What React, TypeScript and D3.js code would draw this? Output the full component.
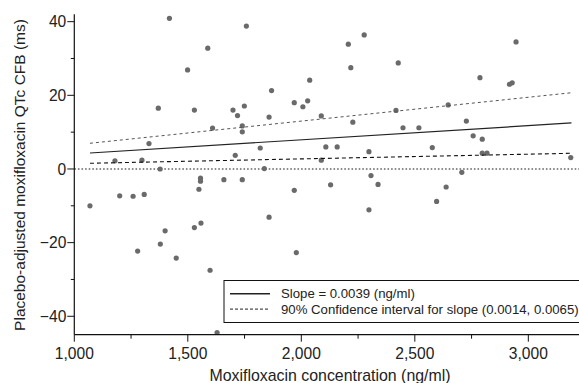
import React, { useEffect, useRef } from "react";
import * as d3 from "d3";

// moxifloxacin concentration (ng/ml) vs placebo-adjusted QTc change (ms)
const concentration = [
  1069, 1179, 1200, 1259, 1279, 1298, 1308, 1329, 1370, 1379, 1378, 1400, 1419, 1449, 1499, 1529,
  1529, 1549, 1556, 1556, 1558, 1588, 1598, 1609, 1629, 1659, 1699, 1709, 1719, 1740, 1740, 1740,
  1749, 1758, 1819, 1837, 1858, 1858, 1869, 1969, 1969, 1978, 2007, 2028, 2037, 2088, 2088, 2108,
  2129, 2158, 2207, 2218, 2227, 2277, 2298, 2298, 2307, 2338, 2417, 2427, 2448, 2518, 2577, 2596,
  2638, 2647, 2707, 2727, 2757, 2787, 2797, 2797, 2818, 2917, 2929, 2946, 3187,
];
const qtcChange = [
  -10.0, 2.2, -7.3, -7.4, -22.3, 2.4, -6.9, 6.9, 16.5, -20.4, 0.0, -16.8, 40.9, -24.2, 26.9, 16.0,
  -15.9, -5.5, -2.5, -3.3, -14.7, 32.8, -27.5, 11.1, -44.4, -2.9, 16.0, 3.7, 14.5, 11.7, 10.1, -2.9,
  17.1, 38.8, 5.7, 0.1, 14.1, -13.1, 21.3, 18.0, -5.8, -22.7, 16.9, 18.5, 24.1, 14.4, 2.4, 6.0,
  -4.3, 6.0, 33.9, 27.5, 12.7, 36.4, 4.7, -11.1, -1.8, -4.2, 15.9, 28.8, 11.2, 11.2, 5.8, -8.8,
  -4.9, 17.4, -0.9, 13.0, 9.0, 24.8, 8.1, 4.3, 4.3, 23.0, 23.4, 34.5, 3.1,
];

// fitted line and 90% CI lines, evaluated at the concentration range ends
const fitX = [1069, 3190];
const slopeFit = [4.34, 12.5];
const ciUpper = [6.98, 20.7];
const ciLower = [1.55, 4.26];

const xTicks = [1000, 1500, 2000, 2500, 3000];
const xMinorTicks = [1250, 1750, 2250, 2750];
const yTicks = [-40, -20, 0, 20, 40];
const yMinorTicks = [-30, -10, 10, 30];

const legendLabels = [
  "Slope = 0.0039 (ng/ml)",
  "90% Confidence interval for slope (0.0014, 0.0065)",
];

const FONT = "'Liberation Sans', Arial, Helvetica, sans-serif";

const App = () => {
  const ref = useRef<HTMLDivElement>(null);

  useEffect(() => {
    const width = 579;
    const height = 383;
    const left = 74.3;
    const right = 579.4;
    const top = 14.3;
    const bottom = 334.7;

    const svg = d3
      .select(ref.current)
      .html("")
      .append("svg")
      .attr("width", width)
      .attr("height", height)
      .style("position", "absolute")
      .style("left", "0px")
      .style("top", "0px")
      .style("font-family", FONT);

    svg.append("rect").attr("width", width).attr("height", height).attr("fill", "white");

    const x = d3.scaleLinear().domain([1000, 3225]).range([left, right]);
    const y = d3.scaleLinear().domain([-45, 42]).range([bottom, top]);

    // zero reference line
    svg.append("line")
      .attr("x1", left).attr("x2", right)
      .attr("y1", y(0)).attr("y2", y(0))
      .attr("stroke", "#666")
      .attr("stroke-width", 1.6)
      .attr("stroke-dasharray", "1.6,2");

    // points
    svg.append("g")
      .selectAll("circle")
      .data(concentration.map((c, i) => [c, qtcChange[i]]))
      .join("circle")
      .attr("cx", d => x(d[0]))
      .attr("cy", d => y(d[1]))
      .attr("r", 2.6)
      .attr("fill", "#6a6a6a");

    const line = d3.line<number>().x((_, i) => x(fitX[i])).y(d => y(d));

    svg.append("path")
      .attr("d", line(ciUpper))
      .attr("fill", "none")
      .attr("stroke", "#555")
      .attr("stroke-width", 1)
      .attr("stroke-dasharray", "3,3");

    svg.append("path")
      .attr("d", line(ciLower))
      .attr("fill", "none")
      .attr("stroke", "#111")
      .attr("stroke-width", 1.1)
      .attr("stroke-dasharray", "4,3");

    svg.append("path")
      .attr("d", line(slopeFit))
      .attr("fill", "none")
      .attr("stroke", "#222")
      .attr("stroke-width", 1.2);

    // axes
    const xAxis = svg.append("g").attr("transform", `translate(0,${bottom})`);
    xAxis.append("line").attr("x1", left).attr("x2", right).attr("stroke", "#111").attr("stroke-width", 1.2);
    xAxis.selectAll("line.major")
      .data(xTicks).join("line").attr("class", "major")
      .attr("x1", d => x(d)).attr("x2", d => x(d))
      .attr("y1", 0).attr("y2", 7)
      .attr("stroke", "#111");
    xAxis.selectAll("line.minor")
      .data(xMinorTicks).join("line").attr("class", "minor")
      .attr("x1", d => x(d)).attr("x2", d => x(d))
      .attr("y1", 0).attr("y2", 4)
      .attr("stroke", "#111");
    xAxis.selectAll("text")
      .data(xTicks).join("text")
      .attr("x", d => x(d))
      .attr("y", 24)
      .attr("text-anchor", "middle")
      .attr("font-size", "15.6px")
      .attr("fill", "#222")
      .text(d => d3.format(",")(d));

    const yAxis = svg.append("g").attr("transform", `translate(${left},0)`);
    yAxis.append("line").attr("y1", top).attr("y2", bottom).attr("stroke", "#111").attr("stroke-width", 1.2);
    yAxis.selectAll("line.major")
      .data(yTicks).join("line").attr("class", "major")
      .attr("y1", d => y(d)).attr("y2", d => y(d))
      .attr("x1", -7).attr("x2", 0)
      .attr("stroke", "#111");
    yAxis.selectAll("line.minor")
      .data(yMinorTicks).join("line").attr("class", "minor")
      .attr("y1", d => y(d)).attr("y2", d => y(d))
      .attr("x1", -3.5).attr("x2", 0)
      .attr("stroke", "#111");
    yAxis.selectAll("text")
      .data(yTicks).join("text")
      .attr("x", -8)
      .attr("y", d => y(d))
      .attr("dy", "0.36em")
      .attr("text-anchor", "end")
      .attr("font-size", "15.6px")
      .attr("fill", "#222")
      .text(d => d3.format("")(d));

    // axis titles
    svg.append("text")
      .attr("x", 330)
      .attr("y", 381)
      .attr("text-anchor", "middle")
      .attr("font-size", "15.9px")
      .attr("fill", "#222")
      .text("Moxifloxacin concentration (ng/ml)");

    svg.append("text")
      .attr("transform", `translate(25,175) rotate(-90)`)
      .attr("text-anchor", "middle")
      .attr("font-size", "15.5px")
      .attr("fill", "#222")
      .text("Placebo-adjusted moxifloxacin QTc CFB (ms)");

    // legend
    const lg = svg.append("g").attr("transform", "translate(224,280.5)");
    lg.append("rect")
      .attr("width", 370)
      .attr("height", 42)
      .attr("fill", "white")
      .attr("stroke", "#111")
      .attr("stroke-width", 1);
    legendLabels.forEach((label, i) => {
      const ly = 13.2 + i * 15.4;
      lg.append("line")
        .attr("x1", 6).attr("x2", 46)
        .attr("y1", ly).attr("y2", ly)
        .attr("stroke", "#222")
        .attr("stroke-width", i === 0 ? 1.4 : 1)
        .attr("stroke-dasharray", i === 0 ? null : "3,2");
      lg.append("text")
        .attr("x", 57)
        .attr("y", ly)
        .attr("dy", "0.36em")
        .attr("font-size", "13.2px")
        .attr("fill", "#222")
        .text(label);
    });
  }, []);

  return <div ref={ref} />;
};

export default App;
